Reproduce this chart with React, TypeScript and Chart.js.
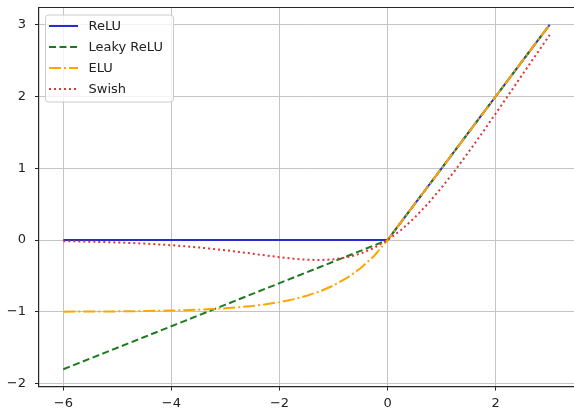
import { useEffect, useRef } from 'react';
import { Chart, registerables } from 'chart.js';

Chart.register(...registerables);

const xValues = [
  -6, -5.75, -5.5, -5.25, -5, -4.75, -4.5, -4.25, -4, -3.75, -3.5, -3.25,
  -3, -2.75, -2.5, -2.25, -2, -1.75, -1.5, -1.25, -1, -0.75, -0.5, -0.25,
  0, 0.25, 0.5, 0.75, 1, 1.25, 1.5, 1.75, 2, 2.25, 2.5, 2.75, 3,
];
const reluValues = [
  0, 0, 0, 0, 0, 0, 0, 0, 0, 0, 0, 0,
  0, 0, 0, 0, 0, 0, 0, 0, 0, 0, 0, 0,
  0, 0.25, 0.5, 0.75, 1, 1.25, 1.5, 1.75, 2, 2.25, 2.5, 2.75, 3,
];
const leakyReluValues = [
  -1.8, -1.725, -1.65, -1.575, -1.5, -1.425, -1.35, -1.275, -1.2, -1.125, -1.05, -0.975,
  -0.9, -0.825, -0.75, -0.675, -0.6, -0.525, -0.45, -0.375, -0.3, -0.225, -0.15, -0.075,
  0, 0.25, 0.5, 0.75, 1, 1.25, 1.5, 1.75, 2, 2.25, 2.5, 2.75, 3,
];
const eluValues = [
  -0.9975, -0.9968, -0.9959, -0.9948, -0.9933, -0.9913, -0.9889, -0.9857, -0.9817, -0.9765, -0.9698, -0.9612,
  -0.9502, -0.9361, -0.9179, -0.8946, -0.8647, -0.8262, -0.7769, -0.7135, -0.6321, -0.5276, -0.3935, -0.2212,
  0, 0.25, 0.5, 0.75, 1, 1.25, 1.5, 1.75, 2, 2.25, 2.5, 2.75, 3,
];
const swishValues = [
  -0.0148, -0.0182, -0.0224, -0.0274, -0.0335, -0.0407, -0.0494, -0.0598, -0.0719, -0.0862, -0.1026, -0.1213,
  -0.1423, -0.1652, -0.1897, -0.2145, -0.2384, -0.2591, -0.2736, -0.2784, -0.2689, -0.2406, -0.1888, -0.1095,
  0, 0.1406, 0.3112, 0.5094, 0.7311, 0.9716, 1.2264, 1.4909, 1.7616, 2.0355, 2.3104, 2.5848, 2.8577,
];
const seriesLabels = ['ReLU', 'Leaky ReLU', 'ELU', 'Swish'];
const xTickValues = [-6, -4, -2, 0, 2];
const yTickValues = [-2, -1, 0, 1, 2, 3];

const FONT = "'DejaVu Sans', sans-serif";
const TEXT = '#222222';
const SPINE = '#262626';
const GRID = '#c4c4c4';

const fmt = (v: number) => String(v).replace('-', '\u2212');

const frameAndLegend = {
  id: 'frameAndLegend',
  afterDatasetsDraw(chart: any) {
    const { ctx, chartArea } = chart;
    ctx.save();
    // top spine
    ctx.strokeStyle = SPINE;
    ctx.lineWidth = 1.2;
    ctx.beginPath();
    ctx.moveTo(chartArea.left, chartArea.top);
    ctx.lineTo(chartArea.right, chartArea.top);
    ctx.stroke();

    // legend
    const bx = chartArea.left + 6.5;
    const by = chartArea.top + 7.5;
    const bw = 128;
    const bh = 87;
    ctx.fillStyle = 'rgba(255,255,255,0.8)';
    ctx.strokeStyle = '#cccccc';
    ctx.lineWidth = 1;
    ctx.beginPath();
    (ctx as any).roundRect(bx, by, bw, bh, 3);
    ctx.fill();
    ctx.stroke();

    ctx.font = `13px ${FONT}`;
    ctx.textBaseline = 'middle';
    ctx.textAlign = 'left';
    chart.data.datasets.forEach((ds: any, i: number) => {
      const y = by + 11 + i * 21;
      ctx.save();
      ctx.strokeStyle = ds.borderColor;
      ctx.lineWidth = ds.borderWidth;
      ctx.setLineDash(ds.borderDash || []);
      ctx.beginPath();
      ctx.moveTo(bx + 3.5, y);
      ctx.lineTo(bx + 32.5, y);
      ctx.stroke();
      ctx.restore();
      ctx.fillStyle = TEXT;
      ctx.fillText(ds.label, bx + 43, y + 0.5);
    });
    ctx.restore();
  },
};

export default function App() {
  const ref = useRef<HTMLCanvasElement | null>(null);

  useEffect(() => {
    document.body.style.margin = '0';
    const canvas = ref.current;
    if (!canvas) return;

    const pts = (ys: number[]) => xValues.map((x, i) => ({ x, y: ys[i] }));
    const seriesData = [reluValues, leakyReluValues, eluValues, swishValues];
    const colors = ['#2a2ad0', '#1f7a1f', '#ffa500', '#e03535'];
    const dashes = [[], [7, 3.5], [12, 3, 2, 3], [2, 3]];

    const chart = new Chart(canvas, {
      type: 'line',
      data: {
        datasets: seriesLabels.map((label, i) => ({
          label,
          data: pts(seriesData[i]),
          borderColor: colors[i],
          backgroundColor: colors[i],
          borderWidth: 2,
          borderDash: dashes[i],
          pointRadius: 0,
          fill: false,
          tension: 0,
          order: seriesLabels.length - i,
        })),
      },
      plugins: [frameAndLegend],
      options: {
        animation: false,
        responsive: false,
        maintainAspectRatio: false,
        layout: { padding: { top: 7.5, right: 0, left: 0, bottom: 0 } },
        plugins: {
          legend: { display: false },
          tooltip: { enabled: false },
        },
        scales: {
          x: {
            type: 'linear',
            min: -6.45,
            max: 3.45,
            afterFit: (s: any) => {
              s.height = 22.5;
              s.paddingLeft = 0;
              s.paddingRight = 0;
            },
            afterBuildTicks: (s: any) => {
              s.ticks = xTickValues.map((v) => ({ value: v }));
            },
            grid: {
              color: GRID,
              lineWidth: 1,
              tickColor: SPINE,
              tickLength: 4,
              drawTicks: true,
            },
            border: { color: SPINE, width: 1.2 },
            ticks: {
              color: TEXT,
              font: { family: FONT, size: 13 },
              padding: 5,
              maxRotation: 0,
              autoSkip: false,
              callback: (v: any) => fmt(Number(v)),
            },
          },
          y: {
            type: 'linear',
            min: -2.04,
            max: 3.24,
            afterFit: (s: any) => {
              s.width = 39;
              s.paddingTop = 0;
              s.paddingBottom = 0;
            },
            afterBuildTicks: (s: any) => {
              s.ticks = yTickValues.map((v) => ({ value: v }));
            },
            grid: {
              color: GRID,
              lineWidth: 1,
              tickColor: SPINE,
              tickLength: 4,
              drawTicks: true,
            },
            border: { color: SPINE, width: 1.2 },
            ticks: {
              color: TEXT,
              font: { family: FONT, size: 13 },
              padding: 9,
              autoSkip: false,
              callback: (v: any) => fmt(Number(v)),
            },
          },
        },
      },
    });
    return () => chart.destroy();
  }, []);

  return (
    <div style={{ width: 574, height: 409 }}>
      <canvas ref={ref} width={574} height={409} style={{ display: 'block', width: 574, height: 409 }} />
    </div>
  );
}
